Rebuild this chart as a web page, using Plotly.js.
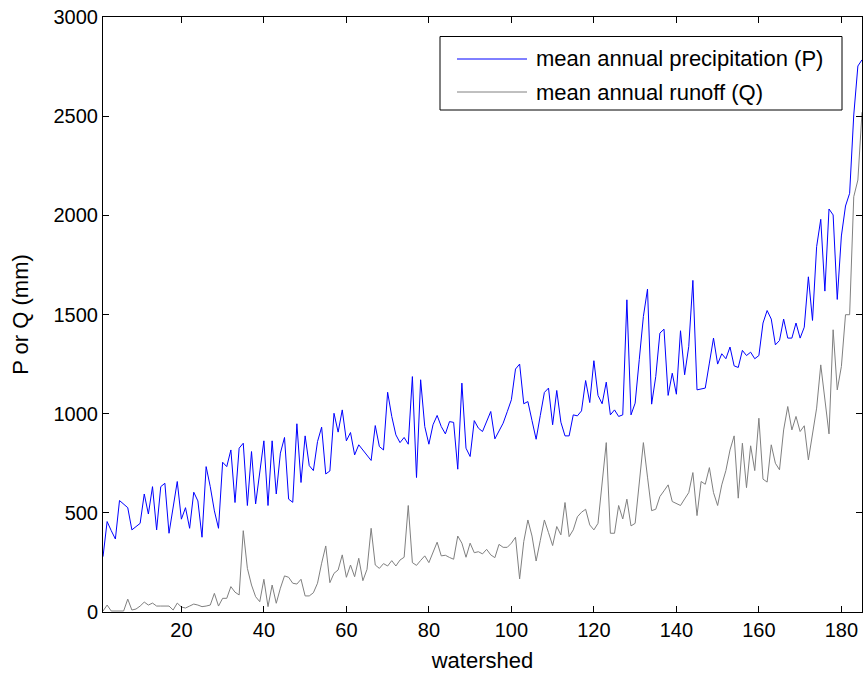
<!DOCTYPE html>
<html>
<head>
<meta charset="utf-8">
<script src="https://cdn.plot.ly/plotly-3.0.1.min.js"></script>
<style>html,body{margin:0;padding:0;background:#fff;}#chart{width:865px;height:673px;}</style>
</head>
<body>
<div id="chart"></div>
<script>
const precipitation = [
 279,456,410,368,562,545,526,414,430,447,595,494,632,414,632,649,397,530,658,468,
 526,422,604,560,377,733,632,510,422,755,733,817,552,826,851,537,809,545,700,863,
 537,863,595,801,880,569,553,949,653,888,738,713,859,932,696,711,1002,907,1019,863,
 905,792,843,815,792,764,940,834,817,1108,986,893,854,880,846,1187,678,1171,935,846,
 944,991,935,898,960,956,720,1154,826,784,965,927,910,960,1011,873,910,952,1010,1070,
 1225,1250,1050,1061,965,871,990,1107,1129,944,1117,957,888,888,994,989,1014,1167,1056,1267,
 1092,1050,1159,994,1019,986,994,1574,994,1053,1272,1490,1628,1048,1187,1406,1426,1092,1204,1098,
 1418,1196,1339,1672,1120,1125,1129,1255,1381,1250,1302,1277,1336,1241,1233,1319,1293,1310,1277,1293,
 1457,1520,1477,1347,1369,1477,1381,1381,1457,1381,1436,1690,1470,1842,1980,1618,2032,2002,1576,1896,
 2047,2111,2506,2753,2784
];
const runoff = [
 5,35,5,5,5,5,65,10,15,30,50,35,45,30,30,30,30,10,45,25,
 20,30,40,35,27,30,35,94,30,69,69,128,100,86,410,220,136,77,52,165,
 27,136,44,120,182,175,145,141,165,81,81,97,145,246,333,148,195,212,288,175,
 237,178,271,158,215,422,237,220,244,232,259,232,262,276,537,249,235,260,283,249,
 300,352,283,286,275,266,383,347,276,347,299,304,293,316,288,274,341,326,326,347,
 377,167,355,464,383,257,360,464,400,335,431,389,552,380,414,480,503,518,439,414,
 447,650,854,397,397,537,469,569,434,447,650,854,680,511,518,582,611,641,557,545,
 537,570,602,703,486,658,644,728,602,537,641,713,817,888,574,851,627,838,713,977,
 670,655,843,750,717,918,1036,918,986,910,939,767,910,1028,1246,1070,898,1423,1120,1238,
 1499,1499,2094,2178,2520
];
const watershed = precipitation.map((_, i) => i + 1);
const xTicks = [20, 40, 60, 80, 100, 120, 140, 160, 180];
const yTicks = [0, 500, 1000, 1500, 2000, 2500, 3000];
const seriesNames = ['mean annual precipitation (P)', 'mean annual runoff (Q)'];
const seriesColors = ['#0000ff', '#808080'];

const FONT = 'Liberation Sans, Arial, sans-serif';
const W = 865, H = 673, ML = 103, MR = 3, MT = 17, MB = 61;
const PW = W - ML - MR, PH = H - MT - MB;
const px = v => (v - ML) / PW;          // pixel -> paper x
const py = v => (H - MB - v) / PH;      // pixel -> paper y

const traces = [
  {x: watershed, y: precipitation, type: 'scatter', mode: 'lines', name: seriesNames[0],
   line: {color: seriesColors[0], width: 1}},
  {x: watershed, y: runoff, type: 'scatter', mode: 'lines', name: seriesNames[1],
   line: {color: seriesColors[1], width: 1}}
];

// manual MATLAB-style legend box
const legBox = {x0: 440, x1: 842, y0: 36.5, y1: 110};
const rowY = [59, 92];
const shapes = [{type: 'rect', xref: 'paper', yref: 'paper', x0: px(legBox.x0), x1: px(legBox.x1),
  y0: py(legBox.y1), y1: py(legBox.y0), line: {color: '#000', width: 1}, fillcolor: '#fff', layer: 'above'}];
const annotations = [];
seriesNames.forEach((n, k) => {
  shapes.push({type: 'line', xref: 'paper', yref: 'paper', x0: px(457), x1: px(527),
    y0: py(rowY[k]), y1: py(rowY[k]), line: {color: seriesColors[k], width: 1}, layer: 'above'});
  annotations.push({xref: 'paper', yref: 'paper', x: px(534), y: py(rowY[k]), xanchor: 'left', yanchor: 'middle',
    text: n, showarrow: false, font: {family: FONT, size: 22, color: '#000'}});
});

const axisCommon = {
  showgrid: false, zeroline: false, showline: true, linecolor: '#000', linewidth: 1,
  mirror: 'ticks', ticks: 'inside', ticklen: 6, tickcolor: '#000', tickwidth: 1,
  tickfont: {family: FONT, size: 20, color: '#000'}
};
const layout = {
  width: W, height: H,
  margin: {l: ML, r: MR, t: MT, b: MB, pad: 0},
  paper_bgcolor: '#fff', plot_bgcolor: '#fff',
  showlegend: false,
  shapes: shapes, annotations: annotations,
  xaxis: Object.assign({}, axisCommon, {range: [1, 185], tickvals: xTicks, ticktext: xTicks.map(String),
    title: {text: 'watershed', font: {family: FONT, size: 22, color: '#000'}, standoff: 12}}),
  yaxis: Object.assign({}, axisCommon, {range: [0, 3000], tickvals: yTicks, ticktext: yTicks.map(String),
    title: {text: 'P or Q (mm)', font: {family: FONT, size: 22, color: '#000'}, standoff: 18}})
};
Plotly.newPlot('chart', traces, layout, {displayModeBar: false, staticPlot: true});
</script>
</body>
</html>
